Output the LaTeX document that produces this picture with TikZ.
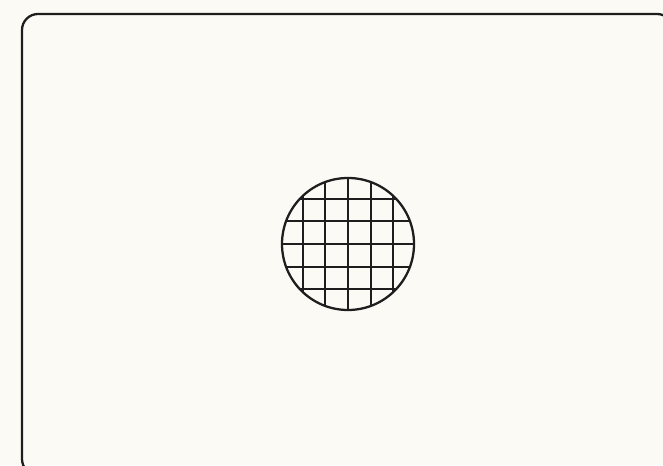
\documentclass[tikz,border=0pt]{standalone}
\usepackage{xcolor}
\usepackage{tikz}
\definecolor{paper}{RGB}{252,250,244}
\definecolor{ink}{RGB}{30,30,30}

\begin{document}
\begin{tikzpicture}
    % Background and page size
    \fill[paper] (0,0) rectangle (13.26,9.3);
    \useasboundingbox (0,0) rectangle (13.26,9.3);

    % Viewfinder frame
    \draw[ink,line width=1.3pt,rounded corners=0.32cm] (0.44,-0.2) rectangle (13.46,9.02);

    % Focusing grid
    \begin{scope}
        \clip (6.96,4.42) circle (1.32cm);
        \foreach \k in {-2,...,2} {
            \draw[ink,line width=1.1pt] (6.96+0.454*\k,2.9) -- (6.96+0.454*\k,5.9);
            \draw[ink,line width=1.1pt] (5.5,4.42+0.454*\k) -- (8.4,4.42+0.454*\k);
        }
    \end{scope}
    \draw[ink,line width=1.3pt] (6.96,4.42) circle (1.32cm);
\end{tikzpicture}
\end{document}
